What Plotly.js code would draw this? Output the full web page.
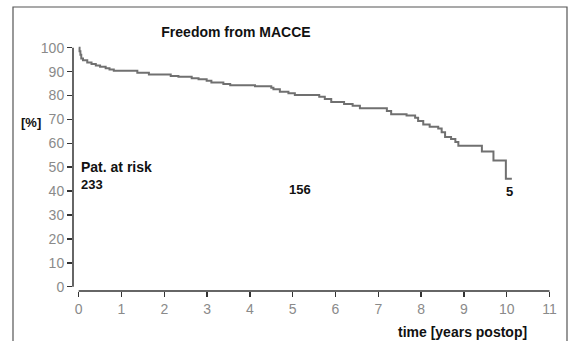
<!DOCTYPE html>
<html>
<head>
<meta charset="utf-8">
<script src="https://cdn.plot.ly/plotly-3.0.1.min.js"></script>
<style>
html,body{margin:0;padding:0;background:#fff;}
#chart{width:569px;height:341px;}
</style>
</head>
<body>
<div id="chart"></div>
<script>
// Kaplan-Meier step data: time in years postop, freedom from MACCE in %
var times = [0, 0.02, 0.04, 0.06, 0.1, 0.2, 0.3, 0.4, 0.5, 0.63, 0.72, 0.82, 1.37, 1.64, 2.15, 2.33, 2.64, 2.8, 2.99, 3.1, 3.38, 3.54, 4.12, 4.5, 4.55, 4.7, 4.9, 5.05, 5.62, 5.75, 5.9, 6.2, 6.4, 6.57, 7.2, 7.3, 7.66, 7.86, 7.93, 8.05, 8.2, 8.4, 8.48, 8.56, 8.7, 8.8, 8.87, 9.42, 9.69, 9.98, 10.12];
var survival = [100, 98.5, 97, 95.5, 94.7, 93.8, 93.2, 92.6, 92.0, 91.4, 90.9, 90.4, 89.5, 88.8, 88.2, 87.8, 87.2, 86.8, 86.2, 85.4, 84.8, 84.3, 83.9, 83.2, 82.6, 81.6, 80.9, 80.2, 79.5, 78.5, 77.3, 76.4, 75.7, 74.7, 73.5, 72.2, 71.6, 70.7, 69.3, 67.9, 66.9, 66.2, 64.6, 62.6, 61.8, 60.5, 59.0, 56.6, 52.8, 45.2, 45.2];

// Patients at risk
var riskTimes = [0, 5, 10];
var riskCounts = [233, 156, 5];

var xTicks = [0, 1, 2, 3, 4, 5, 6, 7, 8, 9, 10, 11];
var yTicks = [0, 10, 20, 30, 40, 50, 60, 70, 80, 90, 100];

var FONT = 'Liberation Sans, Arial, sans-serif';

var trace = {
  x: times, y: survival, type: 'scatter', mode: 'lines',
  line: {shape: 'hv', color: '#707070', width: 2},
  hoverinfo: 'skip', showlegend: false
};

var riskAnn = riskCounts.map(function(c, i) {
  var shifts = [0, 7, 3];
  var ys = [42.6, 40.75, 39.7];
  return {
    x: riskTimes[i], y: ys[i], xref: 'x', yref: 'y',
    text: '<b>' + c + '</b>', showarrow: false,
    xanchor: i === 0 ? 'left' : 'center', yanchor: 'middle',
    xshift: i === 0 ? 0 : shifts[i],
    font: {family: FONT, size: 13, color: '#111'}
  };
});

var annotations = [
  {x: -0.0877, y: 68.9, xref: 'paper', yref: 'y', text: '<b>[%]</b>', showarrow: false,
   xanchor: 'center', yanchor: 'middle', font: {family: FONT, size: 13, color: '#111'}},
  {x: 0, y: 50.1, xref: 'x', yref: 'y', text: '<b>Pat. at risk</b>', showarrow: false,
   xanchor: 'left', yanchor: 'middle', xshift: 0, font: {family: FONT, size: 14, color: '#111'}},
  {x: 462.5 / 569, y: 1 - 331.7 / 341, xref: 'paper', yref: 'paper', text: '<b>time [years postop]</b>', showarrow: false,
   xanchor: 'center', yanchor: 'middle', font: {family: FONT, size: 14, color: '#111'}}
].concat(riskAnn);

// fix xref paper for the x-title annotation: convert from container fraction to paper
(function(){
  var l = 73, w = 479, t = 44, h = 247;
  var a = annotations[2];
  a.x = (462.5 - l) / w;
  a.y = (291 - 331.7) / h;
})();

var layout = {
  width: 569, height: 341,
  margin: {l: 73, r: 17, t: 44, b: 50},
  paper_bgcolor: '#fff', plot_bgcolor: '#fff',
  font: {family: FONT},
  title: {
    text: '<b>Freedom from MACCE</b>',
    x: 236 / 569, xref: 'container', xanchor: 'center',
    y: 1 - 32.5 / 341, yref: 'container', yanchor: 'middle',
    font: {family: FONT, size: 14, color: '#111'}
  },
  xaxis: {
    range: [-0.133, 11.058], tickvals: xTicks, ticktext: xTicks.map(String),
    showgrid: false, zeroline: false, showline: false,
    ticks: 'outside', ticklen: 5, tickwidth: 1.5, tickcolor: '#333',
    tickfont: {family: FONT, size: 14, color: '#8a8a8a'}, fixedrange: true
  },
  yaxis: {
    range: [-1.8, 101.55], tickvals: yTicks, ticktext: yTicks.map(String),
    showgrid: false, zeroline: false, showline: false,
    ticks: 'outside', ticklen: 5, tickwidth: 1.5, tickcolor: '#333',
    tickfont: {family: FONT, size: 14, color: '#8a8a8a'}, fixedrange: true
  },
  shapes: [
    // y axis line
    {type: 'line', xref: 'paper', yref: 'y', x0: 0, x1: 0, y0: 0, y1: 100,
     line: {color: '#333', width: 1.5}},
    // x axis line
    {type: 'line', xref: 'x', yref: 'paper', x0: 0, x1: 11, y0: 0, y1: 0,
     line: {color: '#333', width: 1.5}},
    // outer frame
    {type: 'rect', xref: 'paper', yref: 'paper',
     x0: (13 - 73) / 479, x1: (567 - 73) / 479, y0: (291 - 360) / 247, y1: (291 - 7) / 247,
     line: {color: '#555', width: 1.2}, fillcolor: 'rgba(0,0,0,0)'}
  ],
  annotations: annotations
};

Plotly.newPlot('chart', [trace], layout, {displayModeBar: false, staticPlot: true});
</script>
</body>
</html>
